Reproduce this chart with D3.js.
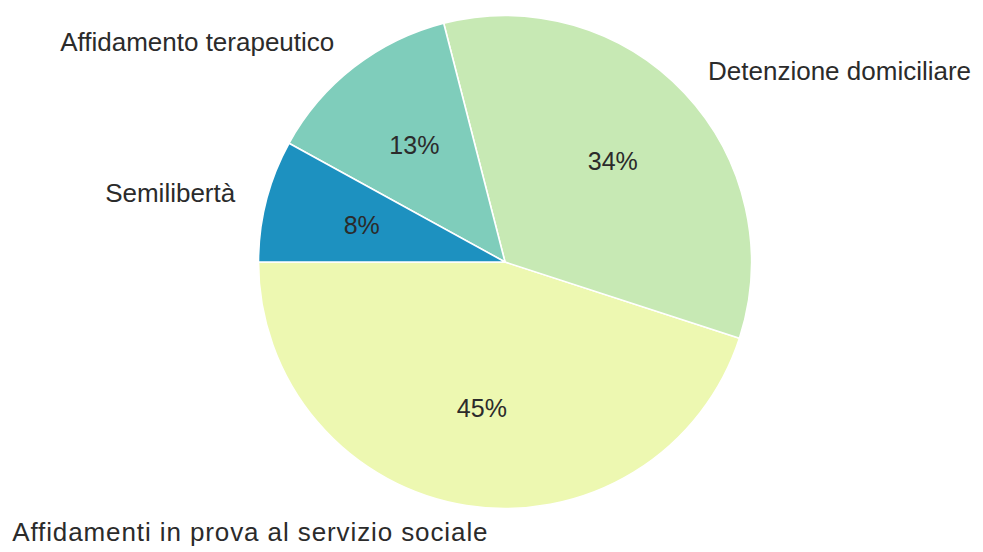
<!DOCTYPE html>
<html>
<head>
<meta charset="utf-8">
<script src="https://cdn.jsdelivr.net/npm/d3@7"></script>
<style>
  html, body { margin: 0; padding: 0; background: #ffffff; }
  svg { display: block; }
  text { font-family: "Liberation Sans", Arial, sans-serif; fill: #2b2b2b; }
</style>
</head>
<body>
<svg id="chart" width="983" height="552"></svg>
<script>
// Misure alternative alla detenzione: quota per tipologia
const categories = [
  "Affidamenti in prova al servizio sociale",
  "Detenzione domiciliare",
  "Affidamento terapeutico",
  "Semilibertà"
];
const shares = [45, 34, 13, 8];
const pctLabels = ["45%", "34%", "13%", "8%"];
const colors = ["#edf8b1", "#c7e9b4", "#7fcdbb", "#1d91c0"];

const W = 983, H = 552;
const cx = 505, cy = 262, R = 246.5;
const labelDist = 1.13, pctDist = 0.6;
// the long bottom label sits a little right and is set slightly looser
const labelShift = { "Affidamenti in prova al servizio sociale": 27 };
const labelSpacing = { "Affidamenti in prova al servizio sociale": "0.9px" };

const svg = d3.select("#chart");
const g = svg.append("g").attr("transform", `translate(${cx},${cy})`);

const data = categories.map((c, i) => ({ name: c, value: shares[i], pct: pctLabels[i], color: colors[i] }));

// counter-clockwise from the 9 o'clock position (d3 angles are clockwise from 12)
const pie = d3.pie()
  .value(d => d.value)
  .sort(null)
  .startAngle(-Math.PI / 2)
  .endAngle(-Math.PI / 2 - 2 * Math.PI);

const arcs = pie(data);
const arc = d3.arc().innerRadius(0).outerRadius(R);

g.selectAll("path.slice")
  .data(arcs)
  .join("path")
  .attr("class", "slice")
  .attr("d", arc)
  .attr("fill", d => d.data.color)
  .attr("stroke", "#ffffff")
  .attr("stroke-width", 1.6)
  .attr("stroke-linejoin", "round");

function midPoint(d, dist) {
  const a = (d.startAngle + d.endAngle) / 2;
  return [Math.sin(a) * R * dist, -Math.cos(a) * R * dist];
}

g.selectAll("text.pct")
  .data(arcs)
  .join("text")
  .attr("class", "pct")
  .attr("x", d => midPoint(d, pctDist)[0])
  .attr("y", d => midPoint(d, pctDist)[1])
  .attr("text-anchor", "middle")
  .attr("dominant-baseline", "central")
  .style("font-size", "25px")
  .text(d => d.data.pct);

g.selectAll("text.cat")
  .data(arcs)
  .join("text")
  .attr("class", "cat")
  .attr("x", d => midPoint(d, labelDist)[0] + (labelShift[d.data.name] || 0))
  .attr("y", d => midPoint(d, labelDist)[1] - (midPoint(d, labelDist)[1] > R ? 5 : 0))
  .attr("text-anchor", d => midPoint(d, labelDist)[0] > 0 ? "start" : "end")
  .attr("dominant-baseline", "central")
  .style("font-size", "26px")
  .style("letter-spacing", d => labelSpacing[d.data.name] || null)
  .text(d => d.data.name);
</script>
</body>
</html>
